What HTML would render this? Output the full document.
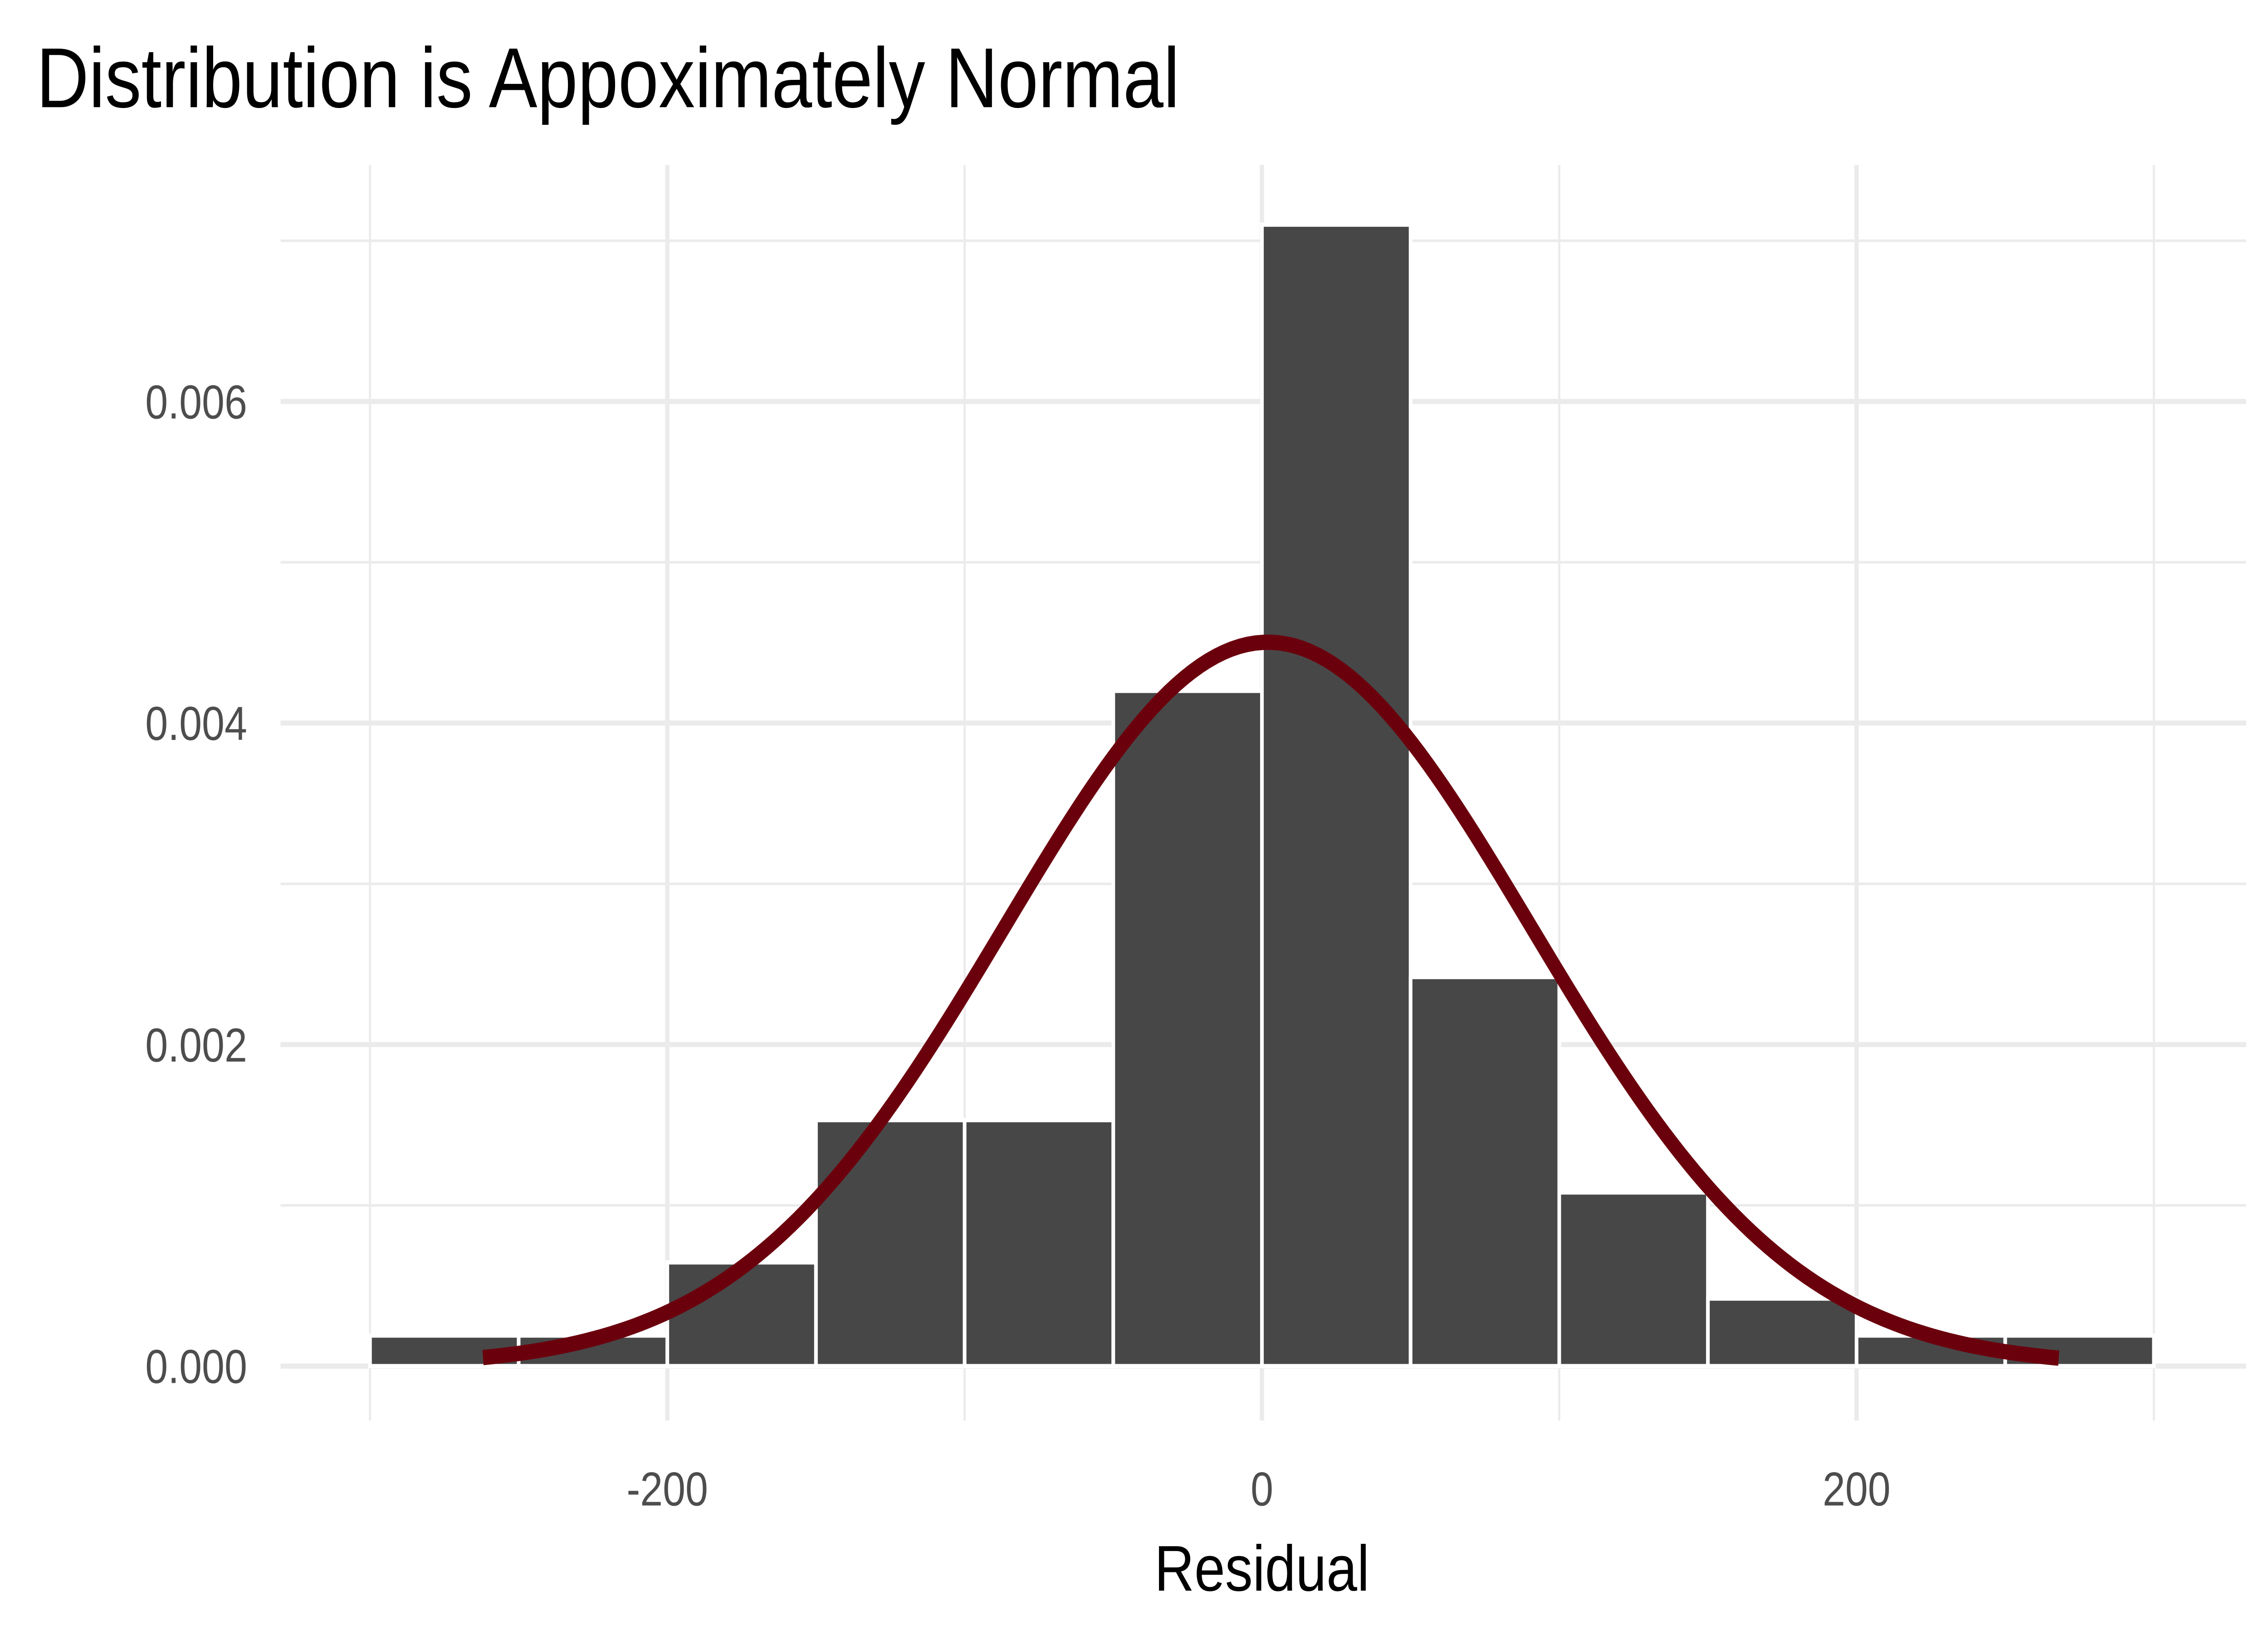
<!DOCTYPE html>
<html><head><meta charset="utf-8"><style>
html,body{margin:0;padding:0;background:#fff;overflow:hidden;width:100%;height:100%}
svg{display:block;width:100vw;height:100vh}
text{font-family:"Liberation Sans",sans-serif}
</style></head><body>
<svg id="chart" viewBox="0 0 1560 964" preserveAspectRatio="none" xmlns="http://www.w3.org/2000/svg">
<rect width="1560" height="964" fill="#fff"/>
<text x="25" y="63" font-size="50" fill="#000">Distribution is Appoximately Normal</text>
<g id="grid"></g>
<g id="bars"></g>
<g id="curve"></g>
<g id="axes"></g>
<text x="868" y="935" font-size="38" text-anchor="middle" fill="#000">Residual</text>
</svg>
<script>
const binStarts = [-300,-250,-200,-150,-100,-50,0,50,100,150,200,250];
const binWidth = 50;
const densities = [0.00019,0.00019,0.000645,0.00153,0.00153,0.0042,0.0071,0.00242,0.00108,0.00042,0.00019,0.00019];
const xTicks = [-200,0,200];
const xTickLabels = ["-200","0","200"];
const xMinor = [-300,-100,100,300];
const yTicks = [0,0.002,0.004,0.006];
const yTickLabels = ["0.000","0.002","0.004","0.006"];
const yMinor = [0.001,0.003,0.005,0.007];
const curveMean = 2;
const curveSd = 88.6;
const curveRange = [-262,268];

const NS = "http://www.w3.org/2000/svg";
const X = v => 868 + v * (409/200);
const Y = v => 803 - v * (567/0.006);
const L = 193, R = 1545, T = 97, B = 835;
function mk(tag, attrs, parent){const e=document.createElementNS(NS,tag);for(const k in attrs)e.setAttribute(k,attrs[k]);parent.appendChild(e);return e;}
const grid=document.getElementById('grid'),bars=document.getElementById('bars'),curve=document.getElementById('curve'),axes=document.getElementById('axes');
yMinor.forEach(v=>{const e=mk('line',{x1:L,x2:R,y1:Y(v),y2:Y(v),stroke:'#ebebeb','stroke-width':1.5},grid);

});
xMinor.forEach(v=>{const e=mk('line',{x1:X(v),x2:X(v),y1:T,y2:B,stroke:'#ebebeb','stroke-width':1.5},grid);

});
yTicks.forEach((v,i)=>{const e=mk('line',{x1:L,x2:R,y1:Y(v),y2:Y(v),stroke:'#ebebeb','stroke-width':3},grid);


const t=mk('text',{x:170,y:Y(v)+10,'font-size':28,'text-anchor':'end',fill:'#4d4d4d'},axes);t.textContent=yTickLabels[i];

});
xTicks.forEach((v,i)=>{const e=mk('line',{x1:X(v),x2:X(v),y1:T,y2:B,stroke:'#ebebeb','stroke-width':3},grid);


const t=mk('text',{x:X(v),y:885,'font-size':28,'text-anchor':'middle',fill:'#4d4d4d'},axes);t.textContent=xTickLabels[i];

});
binStarts.forEach((s,i)=>{const x0=X(s),x1=X(s+binWidth),y=Y(densities[i]);
const r=mk('rect',{x:x0,y:y,width:x1-x0,height:Y(0)-y,fill:'#474747',stroke:'#fff','stroke-width':2.5},bars);

});
let d='';const n=200;
for(let i=0;i<=n;i++){const v=curveRange[0]+(curveRange[1]-curveRange[0])*i/n;
const p=Math.exp(-0.5*((v-curveMean)/curveSd)**2)/(curveSd*Math.sqrt(2*Math.PI));
d+=(i?'L':'M')+X(v).toFixed(2)+','+Y(p).toFixed(2);}
const c=mk('path',{d:d,fill:'none',stroke:'#6b000d','stroke-width':9,'stroke-linejoin':'round'},curve);


</script>
</body></html>
